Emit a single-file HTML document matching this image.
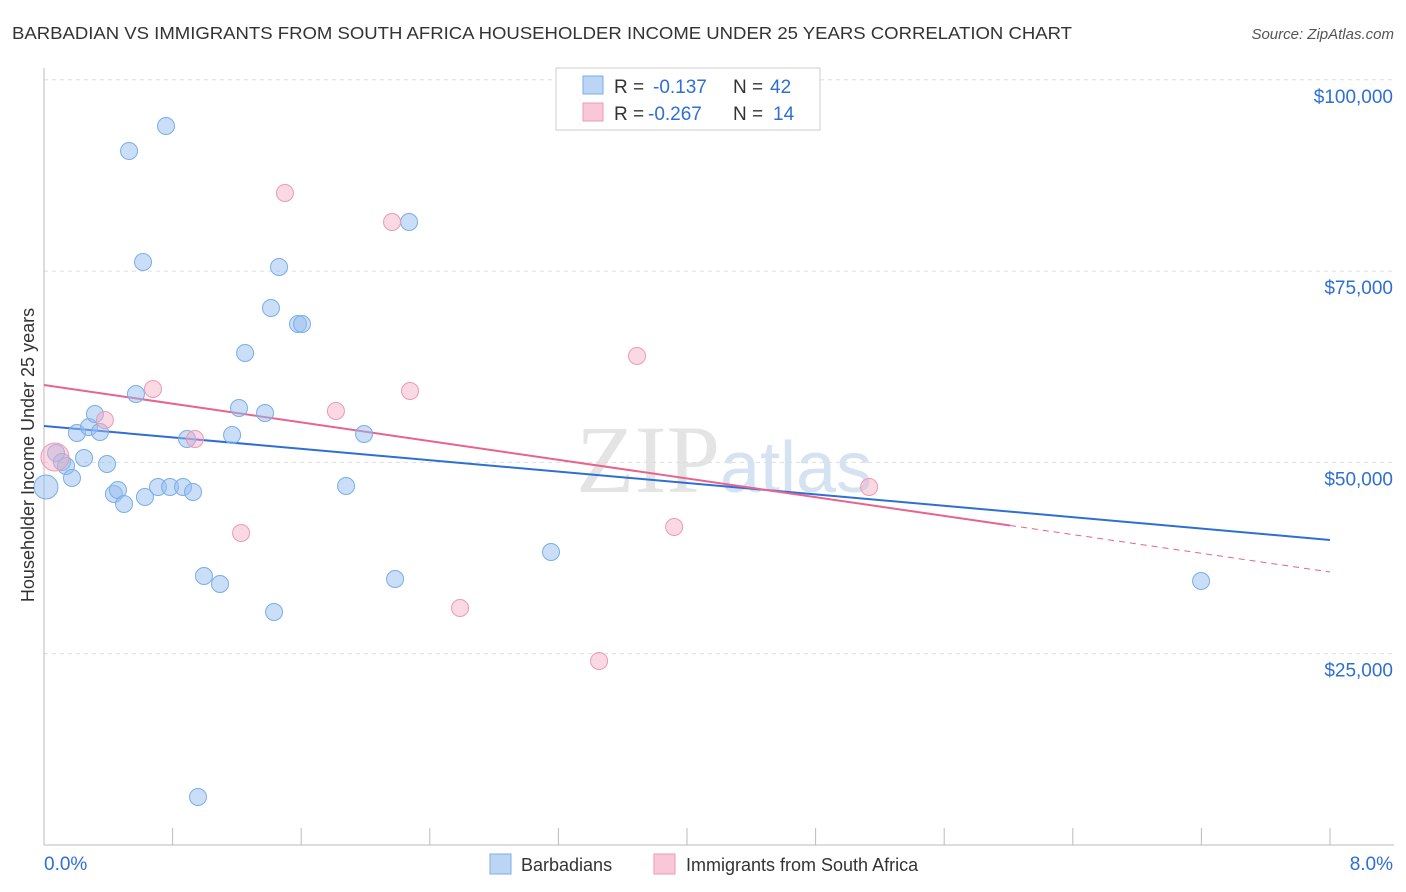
<!DOCTYPE html>
<html><head><meta charset="utf-8"><style>
body{margin:0;background:#fff;font-family:"Liberation Sans",sans-serif;}
svg{display:block}
</style></head><body>
<svg id="chart" width="1406" height="892">
<text x="12" y="39" font-size="17.5" fill="#333" textLength="1060" lengthAdjust="spacingAndGlyphs">BARBADIAN VS IMMIGRANTS FROM SOUTH AFRICA HOUSEHOLDER INCOME UNDER 25 YEARS CORRELATION CHART</text>
<text x="1394" y="39" font-size="15" fill="#555" font-style="italic" text-anchor="end">Source: ZipAtlas.com</text>
<text x="720" y="492" font-size="96" fill="#e4e4e4" text-anchor="end" font-family="Liberation Serif">ZIP</text>
<text x="720" y="492" font-size="72" fill="#d4e2f2">atlas</text>
<g id="grid"></g><g id="axes"></g><g id="trends"></g><g id="pts"></g>
<text transform="translate(34,455) rotate(-90)" font-size="18" fill="#333" text-anchor="middle">Householder Income Under 25 years</text>
<g>
<rect x="556" y="68" width="264" height="62" fill="#fff" stroke="#ccc"/>
<rect x="583" y="76" width="20" height="18" fill="#bcd5f5" stroke="#7aaee8"/>
<rect x="583" y="103" width="20" height="18" fill="#f8c8d8" stroke="#eb9ab5"/>
<text x="614" y="93" font-size="19" fill="#333">R =</text>
<text x="653" y="93" font-size="19" fill="#2e6fd6">-0.137</text>
<text x="733" y="93" font-size="19" fill="#333">N =</text>
<text x="770" y="93" font-size="19" fill="#2e6fd6">42</text>
<text x="614" y="120" font-size="19" fill="#333">R =</text>
<text x="648" y="120" font-size="19" fill="#2e6fd6">-0.267</text>
<text x="733" y="120" font-size="19" fill="#333">N =</text>
<text x="773" y="120" font-size="19" fill="#2e6fd6">14</text>
</g>
<g>
<rect x="490" y="854" width="21" height="20" fill="#bcd5f5" stroke="#7aaee8"/>
<text x="521" y="871" font-size="18" fill="#333">Barbadians</text>
<rect x="654" y="854" width="21" height="20" fill="#f8c8d8" stroke="#eb9ab5"/>
<text x="686" y="871" font-size="18" fill="#333">Immigrants from South Africa</text>
</g>
</svg>
<script>
const yTicks=[25000,50000,75000,100000];
const yTickLabels=["$25,000","$50,000","$75,000","$100,000"];
const blueX=[0.012,0.075,0.112,0.137,0.174,0.205,0.249,0.280,0.317,0.348,0.392,0.435,0.460,0.498,0.529,0.572,0.616,0.628,0.709,0.759,0.784,0.865,0.890,0.927,0.958,0.995,1.095,1.170,1.213,1.251,1.375,1.412,1.431,1.462,1.580,1.605,1.879,1.991,2.184,2.271,3.154,7.198];
const blueY=[46787,51230,50054,49531,47963,53844,50577,54628,56327,53975,49793,45872,46395,44565,90699,58941,76192,45480,46787,93966,46787,46787,53060,46134,6273,35156,34110,53583,57112,64299,56458,70180,30451,75539,68089,68089,46918,53714,34764,81420,38292,34502];
const pinkX=[0.068,0.379,0.678,0.939,1.226,1.499,1.816,2.165,2.277,2.588,3.453,3.689,3.920,5.133];
const pinkY=[50708,55543,59595,53060,40775,85210,56720,81420,59334,30974,24047,63907,41559,46787];
const blueTrend=[54759,39860];
const pinkTrend=[60117,35678];
const pinkSolidEnd=6.01;
const NS="http://www.w3.org/2000/svg";
const sx=v=>44+v/8*1286, sy=v=>845-v/25000*191.3;
function mk(t,a,p){const e=document.createElementNS(NS,t);for(const k in a)e.setAttribute(k,a[k]);p.appendChild(e);return e;}
const grid=document.getElementById('grid'),axes=document.getElementById('axes');
yTicks.forEach((t,i)=>{
 const g=mk('line',{x1:44,x2:1394,y1:sy(t),y2:sy(t),stroke:'#ddd','stroke-dasharray':'4,4'},grid);
 
 
 const l=mk('text',{x:1393,y:sy(t)+23,'font-size':19,fill:'#2e6fd6','text-anchor':'end'},axes);
 l.textContent=yTickLabels[i];
 
 
});
const ax=mk('line',{x1:44,x2:1394,y1:845,y2:845,stroke:'#bbb'},axes);


mk('line',{x1:44,x2:44,y1:68,y2:845,stroke:'#bbb'},axes);
for(let i=0;i<=10;i++){const t=mk('line',{x1:sx(i*0.8),x2:sx(i*0.8),y1:828,y2:845,stroke:'#bbb'},axes);
 
 }
[["0.0%",44,'start'],["8.0%",1393,'end']].forEach(([s,x,a])=>{const t=mk('text',{x:x,y:870,'font-size':19,fill:'#2e6fd6','text-anchor':a},axes);t.textContent=s;
 
 });
const tr=document.getElementById('trends');
const bl=mk('line',{x1:sx(0),y1:sy(blueTrend[0]),x2:sx(8),y2:sy(blueTrend[1]),stroke:'#2e6fd6','stroke-width':2},tr);


const pe=pinkTrend[0]+(pinkTrend[1]-pinkTrend[0])*pinkSolidEnd/8;
const pl=mk('line',{x1:sx(0),y1:sy(pinkTrend[0]),x2:sx(pinkSolidEnd),y2:sy(pe),stroke:'#e8638e','stroke-width':2},tr);


const pd=mk('line',{x1:sx(pinkSolidEnd),y1:sy(pe),x2:sx(8),y2:sy(pinkTrend[1]),stroke:'#e8638e','stroke-width':1,'stroke-dasharray':'6,5'},tr);


const pts=document.getElementById('pts');
blueX.forEach((x,i)=>{const c=mk('circle',{cx:sx(x),cy:sy(blueY[i]),r:i==0?12:8.5,fill:'rgba(150,190,240,0.5)',stroke:'#7aaee8','stroke-width':1},pts);
 
 });
pinkX.forEach((x,i)=>{const c=mk('circle',{cx:sx(x),cy:sy(pinkY[i]),r:i==0?14:8.5,fill:'rgba(244,170,195,0.45)',stroke:'#eb9ab5','stroke-width':1},pts);
 
 });
</script>
</body></html>
